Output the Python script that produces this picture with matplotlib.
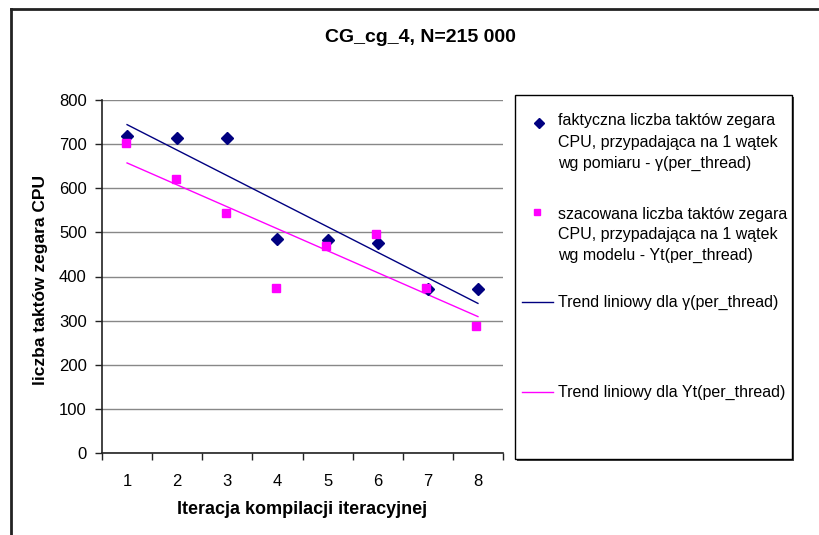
import numpy as np
import matplotlib
matplotlib.use("Agg")
from matplotlib import pyplot as plt
from matplotlib.lines import Line2D
from matplotlib.patches import Rectangle

plt.rcParams['font.family'] = ['Liberation Sans', 'DejaVu Sans']

# data
iterations = [1, 2, 3, 4, 5, 6, 7, 8]
measured = [718, 714, 714, 486, 483, 476, 371, 371]     # gamma(per_thread)
estimated = [702, 620, 544, 374, 468, 496, 374, 288]    # Yt(per_thread)

title = "CG_cg_4, N=215 000"
xlabel = "Iteracja kompilacji iteracyjnej"
ylabel = "liczba taktów zegara CPU"
labels = ["faktyczna liczba taktów zegara\nCPU, przypadająca na 1 wątek\nwg pomiaru - γ(per_thread)",
          "szacowana liczba taktów zegara\nCPU, przypadająca na 1 wątek\nwg modelu - Yt(per_thread)",
          "Trend liniowy dla γ(per_thread)",
          "Trend liniowy dla Yt(per_thread)"]

W, H = 819, 535
fig = plt.figure(figsize=(W/100, H/100), dpi=100)
ax = fig.add_axes([102/W, 1-453/H, 401/W, 353/H])

x = np.array(iterations)
navy = "#000080"
mag = "#FF00FF"

# linear trends (Excel style)
p1 = np.polyfit(x, measured, 1)
p2 = np.polyfit(x, estimated, 1)
ax.plot(x[[0, -1]], np.polyval(p1, x[[0, -1]]), color=navy, lw=1, zorder=3)
ax.plot(x[[0, -1]], np.polyval(p2, x[[0, -1]]), color=mag, lw=1, zorder=3)

ax.plot(x, measured, 'D', color=navy, ms=6, mec=navy, ls='none', zorder=4)
ax.plot(x - 0.03, estimated, 's', color=mag, ms=6, mec=mag, ls='none', zorder=4)

ax.set_xlim(0.5, 8.5)
ax.set_ylim(0, 800)
ax.set_yticks(range(0, 801, 100))
ax.set_xticks(np.arange(0.5, 9, 1))
ax.set_xticklabels([])
ax.set_xticks(x, [str(i) for i in iterations], minor=True)
ax.tick_params(axis='x', which='minor', length=0, pad=15, labelsize=12)
ax.tick_params(axis='x', which='major', length=5, width=1, color='#222222')
ax.tick_params(axis='y', length=5, width=1, color='#222222', labelsize=12, pad=6)
ax.grid(axis='y', color='#888888', lw=1)
ax.set_axisbelow(True)
for s in ['top', 'right']:
    ax.spines[s].set_visible(False)
for s in ['left', 'bottom']:
    ax.spines[s].set_color('#222222')
    ax.spines[s].set_linewidth(1.2)

fig.text(420/W, 1-38/H, title, ha='center', va='center', fontsize=14, fontweight='bold')
fig.text(302/W, 1-509/H, xlabel, ha='center', va='center', fontsize=13, fontweight='bold')
fig.text(41/W, 1-280/H, ylabel, ha='center', va='center', fontsize=12.5, fontweight='bold', rotation=90)

# outer chart border (cropped: only left and top visible)
fig.add_artist(Line2D([11/W, 11/W], [0, 1-9/H], color='#222222', lw=2, transform=fig.transFigure))
fig.add_artist(Line2D([11/W, 1], [1-9/H, 1-9/H], color='#222222', lw=2, transform=fig.transFigure))

# legend box with shadow
fig.add_artist(Rectangle((517/W, 1-461/H), 277/W, 364/H, transform=fig.transFigure,
                         facecolor='#444444', edgecolor='none'))
fig.add_artist(Rectangle((515/W, 1-459/H), 277/W, 364/H, transform=fig.transFigure,
                         facecolor='white', edgecolor='black', lw=1))

tx = 558/W
fig.add_artist(Line2D([539/W], [1-123/H], marker='D', color=navy, ms=5, transform=fig.transFigure))
fig.add_artist(Line2D([537/W], [1-212/H], marker='s', color=mag, ms=5, transform=fig.transFigure))
fig.add_artist(Line2D([522/W, 553/W], [1-302/H]*2, color=navy, lw=1, transform=fig.transFigure))
fig.add_artist(Line2D([522/W, 553/W], [1-392/H]*2, color=mag, lw=1, transform=fig.transFigure))
fig.text(tx, 1-113/H, labels[0], ha='left', va='top', fontsize=11.5, linespacing=1.55)
fig.text(tx, 1-207/H, labels[1], ha='left', va='top', fontsize=11.5, linespacing=1.45)
fig.text(tx, 1-302/H, labels[2], ha='left', va='center', fontsize=11.5)
fig.text(tx, 1-392/H, labels[3], ha='left', va='center', fontsize=11.5)

fig.savefig("out.png", dpi=100)
